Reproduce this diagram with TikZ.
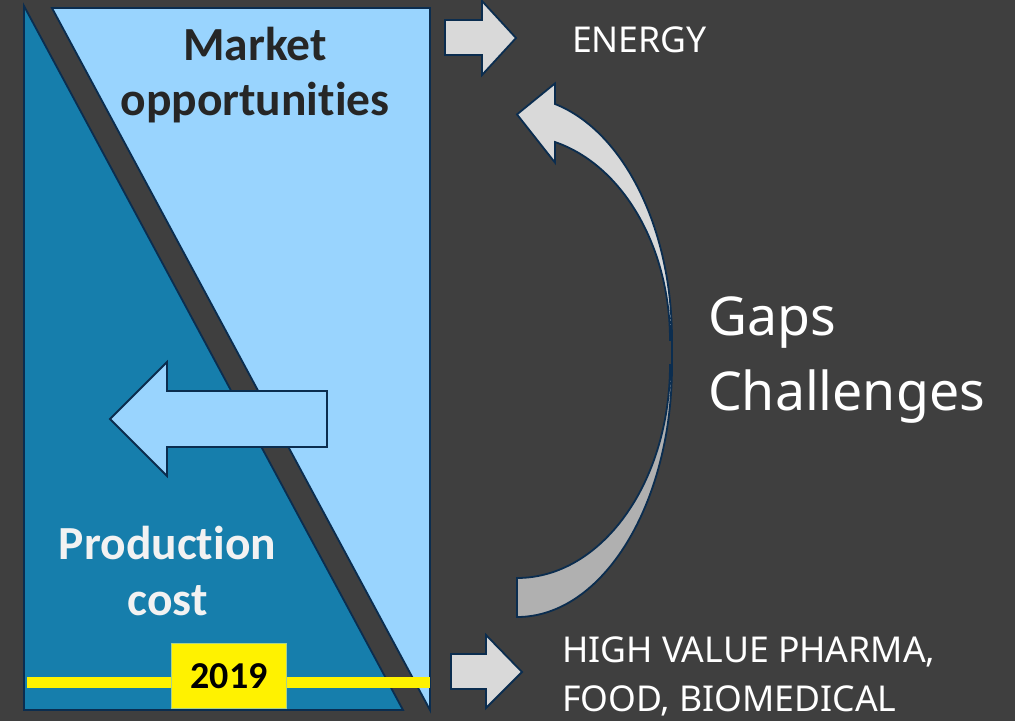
\documentclass[tikz,border=0pt]{standalone}
\usepackage{fontspec}
\setmainfont{Noto Sans}
\newfontfamily\headfont{Carlito}[Ligatures=NoCommon]
\definecolor{bgdark}{HTML}{3F3F3F}
\definecolor{costblue}{HTML}{167EAC}
\definecolor{marketblue}{HTML}{99D4FE}
\definecolor{edgenavy}{HTML}{0B2D4F}
\definecolor{arrowlight}{HTML}{D9D9D9}
\definecolor{arrowshade}{HTML}{B0B0B0}
\definecolor{textdark}{HTML}{262626}
\definecolor{textlight}{HTML}{F2F2F2}
\definecolor{boxedge}{HTML}{A9D18E}
\begin{document}
\begin{tikzpicture}[x=1pt,y=-1pt,
  outline/.style={draw=edgenavy, line width=1.8pt, line join=miter},
  blocktitle/.style={inner sep=0pt, outer sep=0pt, anchor=base,
    font=\headfont\bfseries\fontsize{47.5}{52}\selectfont},
  sidelabel/.style={inner sep=0pt, outer sep=0pt, anchor=base west, text=white,
    font=\fontsize{35.6}{40}\selectfont},
  biglabel/.style={inner sep=0pt, outer sep=0pt, anchor=base west, text=white,
    font=\fontsize{53.6}{60}\selectfont},
  yearbox/.style={fill=yellow, draw=boxedge, line width=1.5pt, inner sep=0pt,
    minimum width=115pt, minimum height=65pt, text=black,
    font=\headfont\bfseries\fontsize{38}{42}\selectfont}
]
% background and page frame
\fill[bgdark] (0,0) rectangle (1015,721);
\useasboundingbox (0,0) rectangle (1015,721);

% production cost wedge and market opportunities wedge
\draw[outline, fill=costblue] (24,6) -- (24,710) -- (403,710) -- cycle;
\draw[outline, fill=marketblue] (52,8) -- (430,8) -- (430,710) -- cycle;

% block arrow pointing left across the two wedges
\draw[outline, fill=marketblue] (110,419) -- (167,362) -- (167,391) -- (327,391)
  -- (327,447) -- (167,447) -- (167,476) -- cycle;

% time line with the year marker
\coordinate (lineA) at (27,682);
\coordinate (lineB) at (430,682);
\draw[yellow, line width=11pt] (lineA) -- (lineB);
\node[yearbox] (year) at (229,676) {2019};

% wedge titles
\node[blocktitle, text=textdark] (market) at (255,60) {Market};
\node[blocktitle, text=textdark] (opport) at (255,115) {opportunities};
\node[blocktitle, text=textlight] (prod) at (167.5,559) {Production};
\node[blocktitle, text=textlight] (cost) at (167.5,615) {cost};

% outgoing block arrows
\draw[outline, fill=arrowlight] (445,20) -- (482,20) -- (482,1) -- (516,38)
  -- (482,75) -- (482,55) -- (445,55) -- cycle;
\draw[outline, fill=arrowlight] (451,654) -- (486,654) -- (486,635) -- (522,672)
  -- (486,708) -- (486,689) -- (451,689) -- cycle;

% curved arrow: lower (back) half, then upper (front) half with the head
\draw[outline, fill=arrowshade] (672,365)
  arc[start angle=0, end angle=90, x radius=155, y radius=252]
  -- (517,578)
  arc[start angle=90, end angle=0, x radius=153, y radius=213] -- cycle;
\draw[outline] (672,340) -- (672,365);
\draw[outline, fill=arrowlight] (555,104)
  arc[start angle=-75.8, end angle=0, x radius=155, y radius=243.4]
  -- (670,340)
  arc[start angle=0, end angle=-75.6, x radius=153, y radius=204.4]
  -- (555,162.6) -- (517,114.4) -- (555,83.4) -- cycle;

% labels on the right
\node[sidelabel] (energy) at (572,52) {ENERGY};
\node[biglabel] (gaps) at (708,335) {Gaps};
\node[biglabel] (challenges) at (708,410) {Challenges};
\node[sidelabel] (pharma) at (562,662) {HIGH VALUE PHARMA,};
\node[sidelabel] (food) at (562,711) {FOOD, BIOMEDICAL};
\end{tikzpicture}
\end{document}
